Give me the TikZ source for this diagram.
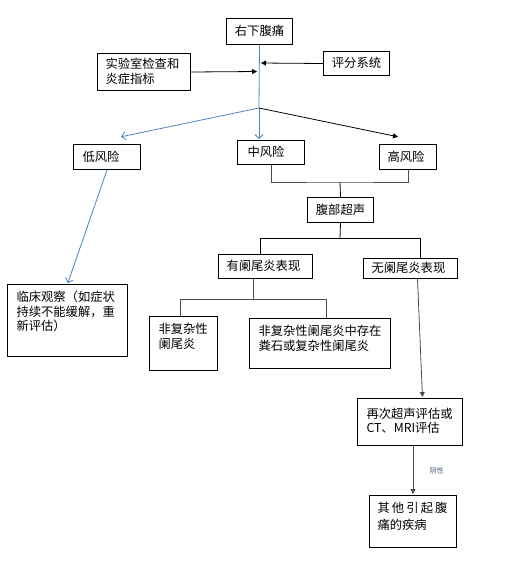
\documentclass[tikz,border=0pt]{standalone}
\usepackage{fontspec}
\newfontfamily\cjk{Noto Sans CJK SC}
\usetikzlibrary{arrows.meta}
\definecolor{lineblue}{RGB}{79,129,189}
\definecolor{notegray}{RGB}{70,90,130}

\begin{document}
\begin{tikzpicture}[x=1pt, y=-1pt,
		box_style/.style={draw=black, line width=1pt, anchor=north west, align=left, inner xsep=8pt, inner ysep=0pt, font=\cjk\fontsize{12.3}{14.5}\selectfont},
		one_style/.style={box_style, text height=10pt, text depth=2pt},
		two_style/.style={box_style, text height=10pt, text depth=16.5pt},
		top_style/.style={box_style, inner ysep=7pt, text height=10pt, text depth=#1},
		edge_style/.style={draw=black, line width=0.8pt},
		gray_style/.style={draw=black!70, line width=0.9pt},
		arrow_style/.style={edge_style, -{Triangle[length=5pt,width=5pt]}, shorten >=1pt},
		blue_style/.style={draw=lineblue, line width=0.8pt, -{Straight Barb[length=4pt,width=8pt]}, shorten >=1pt}]

		\useasboundingbox (0,0) rectangle (517,568);

		\node[one_style, minimum width=66pt, minimum height=26pt] (pain) at (226,18) {右下腹痛};
		\node[two_style, text width=77pt, minimum height=37pt] (lab) at (97,53) {实验室检查和\\炎症指标};
		\node[one_style, minimum width=66pt, minimum height=24pt] (score) at (323,51) {评分系统};
		\node[one_style, inner xsep=9pt, text width=49pt, minimum height=25pt] (low) at (73,144) {低风险};
		\node[one_style, inner xsep=10pt, text width=47pt, minimum height=24pt] (mid) at (237,140) {中风险};
		\node[one_style, text width=41pt, minimum height=25pt] (high) at (379,144) {高风险};
		\node[one_style, minimum width=66pt, minimum height=25pt] (us) at (307,197) {腹部超声};
		\node[one_style, text width=78pt, minimum height=24pt] (yes) at (218,254) {有阑尾炎表现};
		\node[one_style, text width=78pt, minimum height=20pt] (no) at (363,258) {无阑尾炎表现};
		\node[top_style=30pt, inner xsep=9pt, text width=50pt] (unc) at (149,316) {非复杂性\\阑尾炎};
		\node[top_style=26pt, inner xsep=9pt, text width=123pt] (comp) at (249,318) {非复杂性阑尾炎中存在\\粪石或复杂性阑尾炎};
		\node[top_style=48pt, inner xsep=9pt, text width=102pt] (obs) at (7,284) {临床观察（如症状\\持续不能缓解，重\\新评估）};
		\node[two_style, inner xsep=9pt, text width=87pt, minimum height=47pt] (re) at (357,398) {再次超声评估或\\[-1pt]CT、MRI评估};
		\node[top_style=28pt, text width=71pt] (other) at (369,495) {\makebox[70pt][s]{其\hfill 他\hfill 引\hfill 起\hfill 腹}\\[2pt]痛的疾病};

		\coordinate (split) at (259,108);
		\coordinate (low_tip) at (120,137);
		\coordinate (high_tip) at (399,137);
		\coordinate (lab_in) at (258,71.5);
		\coordinate (score_in) at (260,63);
		\coordinate (mh_bar) at (340,182);
		\coordinate (us_bar) at (340,238);

		\draw[blue_style, -] (pain.south) -- (split);
		\draw[blue_style] (split) -- (split |- mid.north);
		\draw[blue_style] (split) -- (low_tip);
		\draw[arrow_style] (split) -- (high_tip);
		\draw[arrow_style] (lab.east) -- (lab_in);
		\draw[arrow_style] (score.west) -- (score_in);
		\draw[blue_style] (low.south) -- (obs.north);
		\draw[gray_style] (mid.south) |- (mh_bar) -| (high.south);
		\draw[edge_style] (mh_bar) -- (us.north);
		\draw[edge_style] (us.south) -- (us_bar);
		\draw[edge_style] (us_bar) -| ([xshift=-5pt]yes.north);
		\draw[edge_style] (us_bar) -| ([xshift=10pt]no.north);
		\draw[gray_style] ([xshift=-12pt]yes.south) -- ++(0,20) coordinate (yes_bar);
		\draw[gray_style] (yes_bar) -| ([xshift=-3pt]unc.north);
		\draw[gray_style] (yes_bar) -| ([xshift=6.5pt]comp.north);
		\draw[arrow_style, draw=black!70] ([xshift=7pt]no.south) -- ([xshift=12.5pt]re.north);
		\draw[arrow_style, draw=black!70] (re.south -| other.north) -- (other.north)
			node[midway, right=13pt, font=\cjk\fontsize{7}{8}\selectfont, text=notegray] {阴性};
\end{tikzpicture}
\end{document}
